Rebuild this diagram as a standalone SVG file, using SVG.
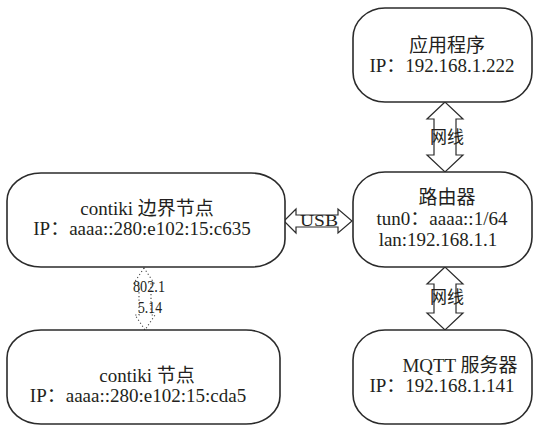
<svg xmlns="http://www.w3.org/2000/svg" width="537" height="426" viewBox="0 0 537 426">
<style>
.box{fill:#fff;stroke:#2b2b2b;stroke-width:1.6}
.arr{fill:#fff;stroke:#2b2b2b;stroke-width:1.2}
.dot{fill:none;stroke:#444;stroke-width:1.1;stroke-dasharray:1.2 2.4}
text{font-family:"Liberation Serif","Noto Sans CJK SC",serif;fill:#231f20;text-anchor:middle}
.t{font-size:19px}
.l{font-size:17px}
.s{font-size:16px}
</style>
<g id="connectors">
<polygon class="arr" points="445,102 427,119 434,119 434,155 427,155 445,172 463,155 456,155 456,119 463,119"/>
<text class="l" x="447" y="143">网线</text>
<polygon class="arr" points="445,267 427,284 434,284 434,313 427,313 445,330 463,313 456,313 456,284 463,284"/>
<text class="l" x="447" y="303">网线</text>
<polygon class="arr" points="284,221 296,209 296,215 338,215 338,209 352,221 338,233 338,227 296,227 296,233"/>
<text class="s" x="319" y="226" textLength="38" lengthAdjust="spacingAndGlyphs">USB</text>
<polygon class="dot" points="144,268 134,283 139,283 139,315 135,315 145,330 155,315 151,315 151,283 154,283"/>
<text class="s" x="149" y="292" textLength="32" lengthAdjust="spacingAndGlyphs">802.1</text>
<text class="s" x="150" y="313" textLength="24" lengthAdjust="spacingAndGlyphs">5.14</text>
</g>
<g id="app">
<rect class="box" x="353" y="8" width="179" height="94" rx="32" ry="30"/>
<text class="t" x="447" y="52">应用程序</text>
<text class="t" x="442" y="72">IP：192.168.1.222</text>
</g>
<g id="router">
<rect class="box" x="353" y="172" width="179" height="95" rx="32" ry="30"/>
<text class="t" x="447" y="204">路由器</text>
<text class="t" x="442" y="225">tun0：aaaa::1/64</text>
<text class="t" x="438" y="246">lan:192.168.1.1</text>
</g>
<g id="mqtt">
<rect class="box" x="353" y="330" width="179" height="94" rx="32" ry="30"/>
<text class="t" x="460" y="372">MQTT 服务器</text>
<text class="t" x="442" y="392">IP：192.168.1.141</text>
</g>
<g id="border">
<rect class="box" x="7" y="173" width="278" height="94" rx="34" ry="28"/>
<text class="t" x="147" y="215">contiki 边界节点</text>
<text class="t" x="142" y="235">IP：aaaa::280:e102:15:c635</text>
</g>
<g id="node">
<rect class="box" x="7" y="330" width="273" height="94" rx="34" ry="28"/>
<text class="t" x="147" y="382">contiki 节点</text>
<text class="t" x="138" y="402">IP：aaaa::280:e102:15:cda5</text>
</g>
</svg>
